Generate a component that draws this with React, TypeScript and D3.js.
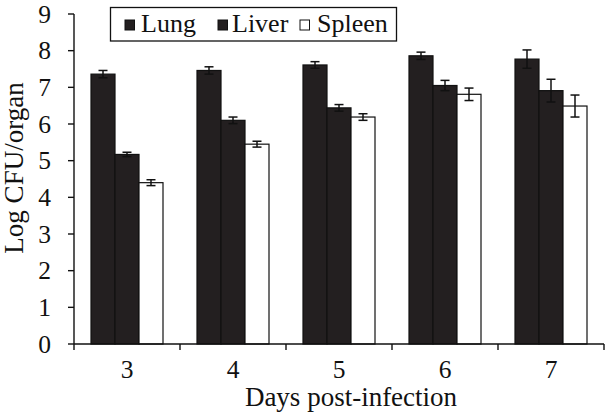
import React from "react";
import * as d3 from "d3";

const days = ["3", "4", "5", "6", "7"];
const seriesNames = ["Lung", "Liver", "Spleen"];
const lungValues = [7.36, 7.46, 7.61, 7.86, 7.77];
const lungErrors = [0.1, 0.1, 0.09, 0.1, 0.25];
const liverValues = [5.17, 6.1, 6.44, 7.05, 6.91];
const liverErrors = [0.06, 0.09, 0.09, 0.14, 0.31];
const spleenValues = [4.4, 5.45, 6.19, 6.81, 6.49];
const spleenErrors = [0.08, 0.08, 0.09, 0.17, 0.3];
const yTicks = [0, 1, 2, 3, 4, 5, 6, 7, 8, 9];

const W = 615;
const H = 418;
const FONT = "'Liberation Serif', 'Times New Roman', serif";
const DARK = "#231f20";

export default function App() {
  const left = 74, right = 604, top = 14, bottom = 344;
  const x0 = d3.scaleBand<string>().domain(days).range([left, right]).paddingInner(0).paddingOuter(0);
  const x1 = d3.scaleBand<string>().domain(seriesNames).range([17, 89]);
  const y = d3.scaleLinear().domain([0, 9]).range([bottom, top]);

  const series = [
    { name: "Lung", values: lungValues, errors: lungErrors, fill: DARK },
    { name: "Liver", values: liverValues, errors: liverErrors, fill: DARK },
    { name: "Spleen", values: spleenValues, errors: spleenErrors, fill: "#ffffff" },
  ];

  const boundaries = [...days.map((d) => x0(d)!), right];
  const legendItems = [
    { name: "Lung", sx: 125, tx: 141, fill: DARK },
    { name: "Liver", sx: 218, tx: 232, fill: DARK },
    { name: "Spleen", sx: 300, tx: 317, fill: "#ffffff" },
  ];

  return (
    <svg width={W} height={H} style={{ position: "absolute", left: 0, top: 0, background: "#fff" }} fontFamily={FONT}>
      <rect x={0} y={0} width={W} height={H} fill="#fff" />
      {/* bars */}
      {series.map((s) =>
        days.map((d, i) => {
          const bx = x0(d)! + x1(s.name)!;
          const bw = x1.bandwidth();
          const v = s.values[i];
          return (
            <rect key={s.name + d} x={bx} y={y(v)} width={bw} height={bottom - y(v)} fill={s.fill} stroke="#111" strokeWidth={1.2} />
          );
        })
      )}
      {/* error bars */}
      {series.map((s) =>
        days.map((d, i) => {
          const cx = x0(d)! + x1(s.name)! + x1.bandwidth() / 2;
          const v = s.values[i];
          const e = s.errors[i];
          const y1 = y(v + e), y2 = y(v - e);
          return (
            <g key={"e" + s.name + d} stroke="#111" strokeWidth={1.5}>
              <line x1={cx} x2={cx} y1={y1} y2={y2} />
              <line x1={cx - 4.5} x2={cx + 4.5} y1={y1} y2={y1} />
              <line x1={cx - 4.5} x2={cx + 4.5} y1={y2} y2={y2} />
            </g>
          );
        })
      )}
      {/* y axis */}
      <line x1={left} x2={left} y1={top} y2={bottom} stroke="#111" strokeWidth={1.4} />
      {yTicks.map((t) => (
        <g key={"yt" + t}>
          <line x1={left - 6} x2={left} y1={y(t)} y2={y(t)} stroke="#111" strokeWidth={1.4} />
          <text x={51} y={y(t) + 8.5} textAnchor="end" fontSize={25.5} fill="#111">
            {t}
          </text>
        </g>
      ))}
      {/* x axis */}
      <line x1={left} x2={right} y1={bottom} y2={bottom} stroke="#111" strokeWidth={1.4} />
      {boundaries.map((bx, i) => (
        <line key={"xt" + i} x1={bx} x2={bx} y1={bottom} y2={bottom + 6} stroke="#111" strokeWidth={1.4} />
      ))}
      {days.map((d) => (
        <text key={"xl" + d} x={x0(d)! + x0.bandwidth() / 2} y={378} textAnchor="middle" fontSize={25.5} fill="#111">
          {d}
        </text>
      ))}
      <text x={351} y={406} textAnchor="middle" fontSize={27} fill="#111">
        Days post-infection
      </text>
      <text transform={`translate(23, 168) rotate(-90)`} textAnchor="middle" fontSize={27} fill="#111">
        Log CFU/organ
      </text>
      {/* legend */}
      <rect x={110.5} y={7.5} width={286} height={33.5} fill="#fff" stroke="#111" strokeWidth={1.3} />
      {legendItems.map((l) => (
        <g key={"lg" + l.name}>
          <rect x={l.sx} y={20} width={9.5} height={10} fill={l.fill} stroke="#111" strokeWidth={1} />
          <text x={l.tx} y={32} fontSize={26} fill="#111">
            {l.name}
          </text>
        </g>
      ))}
    </svg>
  );
}
